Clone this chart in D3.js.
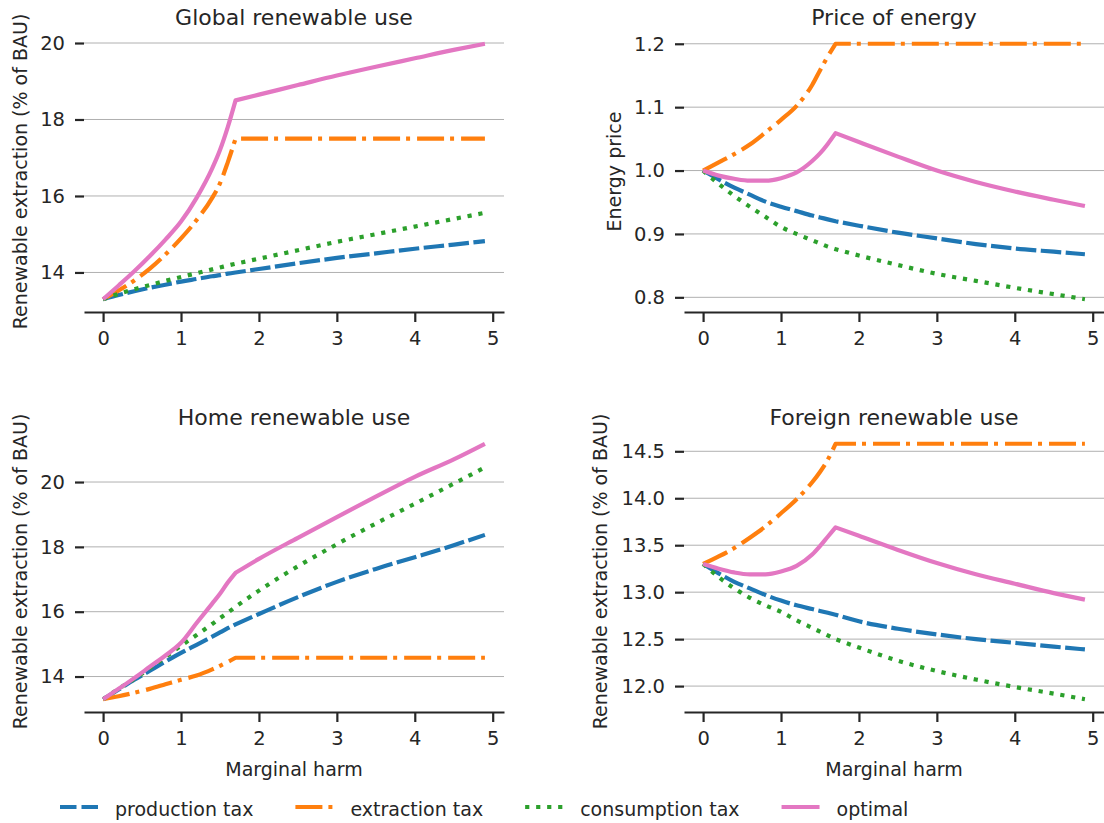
<!DOCTYPE html>
<html><head><meta charset="utf-8">
<script src="https://cdn.jsdelivr.net/npm/d3@7"></script>
<style>
body{margin:0;background:#fff;}
svg{display:block;font-family:"DejaVu Sans",sans-serif;}
</style></head><body>
<svg id="chart" width="1104" height="823"></svg>
<script>
// ---- data ----
const marginalHarm = [0,0.2,0.4,0.6,0.8,1.0,1.2,1.4,1.5,1.6,1.7,2.0,2.5,3.0,3.5,4.0,4.5,4.9];
const kinkHarm = 1.7;
const seriesNames = ["production tax","extraction tax","consumption tax","optimal"];
const xTicks = [0,1,2,3,4,5];

const globalProduction  = [13.3,13.41,13.51,13.6,13.68,13.76,13.83,13.9,13.93,13.97,14.0,14.09,14.24,14.38,14.5,14.62,14.73,14.82];
const globalExtraction  = [13.3,13.53,13.79,14.1,14.47,14.89,15.37,15.95,16.33,16.88,17.5,17.5,17.5,17.5,17.5,17.5,17.5,17.5];
const globalConsumption = [13.3,13.44,13.56,13.67,13.78,13.88,13.98,14.08,14.13,14.18,14.23,14.36,14.58,14.8,15.0,15.2,15.4,15.56];
const globalOptimal     = [13.3,13.66,14.03,14.43,14.86,15.33,15.95,16.72,17.2,17.8,18.5,18.65,18.9,19.15,19.38,19.6,19.82,19.98];
const globalTicks = [14,16,18,20];

const priceProduction  = [1.0,0.986,0.973,0.962,0.951,0.943,0.936,0.929,0.926,0.923,0.92,0.913,0.902,0.893,0.884,0.877,0.872,0.868];
const priceExtraction  = [1.0,1.013,1.026,1.041,1.06,1.08,1.102,1.135,1.158,1.18,1.2,1.2,1.2,1.2,1.2,1.2,1.2,1.2];
const priceConsumption = [1.0,0.979,0.96,0.943,0.927,0.911,0.9,0.89,0.885,0.88,0.876,0.866,0.851,0.837,0.826,0.815,0.805,0.797];
const priceOptimal     = [1.0,0.992,0.987,0.984,0.984,0.988,0.997,1.015,1.027,1.042,1.059,1.045,1.022,1.0,0.982,0.967,0.954,0.944];
const priceTicks = [0.8,0.9,1.0,1.1,1.2];

const homeProduction  = [13.3,13.6,13.9,14.18,14.46,14.73,14.98,15.23,15.36,15.49,15.61,15.93,16.45,16.92,17.32,17.68,18.05,18.37];
const homeExtraction  = [13.3,13.39,13.5,13.62,13.76,13.9,14.03,14.22,14.33,14.45,14.58,14.58,14.58,14.58,14.58,14.58,14.58,14.58];
const homeConsumption = [13.3,13.62,13.93,14.26,14.6,14.95,15.28,15.62,15.8,15.97,16.15,16.65,17.4,18.08,18.72,19.33,19.95,20.45];
const homeOptimal     = [13.3,13.62,13.95,14.3,14.65,15.04,15.65,16.25,16.55,16.9,17.2,17.63,18.28,18.92,19.55,20.16,20.7,21.18];
const homeTicks = [14,16,18,20];

const foreignProduction  = [13.3,13.2,13.11,13.04,12.97,12.91,12.86,12.82,12.8,12.78,12.76,12.69,12.61,12.55,12.5,12.46,12.42,12.39];
const foreignExtraction  = [13.3,13.38,13.47,13.58,13.7,13.84,13.99,14.17,14.28,14.41,14.58,14.58,14.58,14.58,14.58,14.58,14.58,14.58];
const foreignConsumption = [13.3,13.16,13.04,12.94,12.86,12.79,12.7,12.62,12.58,12.54,12.5,12.41,12.27,12.16,12.07,11.99,11.92,11.86];
const foreignOptimal     = [13.3,13.25,13.21,13.19,13.19,13.22,13.28,13.4,13.49,13.59,13.69,13.6,13.45,13.31,13.19,13.09,12.99,12.92];
const foreignTicks = [12.0,12.5,13.0,13.5,14.0,14.5];

// ---- styles ----
const colors = ["#1f77b4","#ff7f0e","#2ca02c","#e377c2"];
const dashes = ["20.5,4.5","27,6,4,7","4.2,6.8",null];
const legendDashes = ["16.5,5","27,6,4,7","4.2,6.8",null];
const textColor = "#262626";
const W = 420, H = 281;

const panels = [
  {title:"Global renewable use", ylabel:"Renewable extraction (% of BAU)", data:[globalProduction,globalExtraction,globalConsumption,globalOptimal], ticks:globalTicks, fmt:d3.format("d"), left:84, top:31, ylx:27, xlabel:false},
  {title:"Price of energy", ylabel:"Energy price", data:[priceProduction,priceExtraction,priceConsumption,priceOptimal], ticks:priceTicks, fmt:d3.format(".1f"), left:684, top:31, ylx:621, xlabel:false},
  {title:"Home renewable use", ylabel:"Renewable extraction (% of BAU)", data:[homeProduction,homeExtraction,homeConsumption,homeOptimal], ticks:homeTicks, fmt:d3.format("d"), left:84, top:431, ylx:27, xlabel:true},
  {title:"Foreign renewable use", ylabel:"Renewable extraction (% of BAU)", data:[foreignProduction,foreignExtraction,foreignConsumption,foreignOptimal], ticks:foreignTicks, fmt:d3.format(".1f"), left:684, top:431, ylx:607, xlabel:true}
];

const svg = d3.select("#chart");

function padded(ext){ const p=(ext[1]-ext[0])*0.05; return [ext[0]-p, ext[1]+p]; }

const kinkIndex = marginalHarm.indexOf(kinkHarm);

panels.forEach(p => {
  const g = svg.append("g");
  const x = d3.scaleLinear().domain(padded(d3.extent(marginalHarm))).range([p.left, p.left+W]);
  const y = d3.scaleLinear().domain(padded(d3.extent(p.data.flat()))).range([p.top+H, p.top]);

  // grid
  g.append("g").selectAll("line").data(p.ticks).join("line")
    .attr("x1", p.left).attr("x2", p.left+W)
    .attr("y1", d=>y(d)).attr("y2", d=>y(d))
    .attr("stroke", "#b0b0b0").attr("stroke-width", 1);

  // lines: smooth on each side of the kink, joined into one continuous path
  const line = d3.line().x(d=>x(d[0])).y(d=>y(d[1])).curve(d3.curveMonotoneX);
  p.data.forEach((s, k) => {
    const pts = s.map((v,i)=>[marginalHarm[i], v]);
    const a = line(pts.slice(0, kinkIndex+1));
    const b = line(pts.slice(kinkIndex)).replace(/^M/, "L");
    g.append("path").attr("d", a + b)
      .attr("fill","none").attr("stroke", colors[k])
      .attr("stroke-width", 4.2)
      .attr("stroke-linecap","butt").attr("stroke-linejoin","round")
      .attr("stroke-dasharray", dashes[k]);
  });

  // x axis
  const ax = g.append("g").attr("transform", `translate(0,${p.top+H})`)
    .call(d3.axisBottom(x).tickValues(xTicks).tickFormat(d3.format("d")).tickSize(10).tickSizeOuter(0).tickPadding(9));
  ax.attr("font-family", null).attr("font-size", null);
  ax.select(".domain").attr("stroke", textColor).attr("stroke-width", 2.2);
  ax.selectAll(".tick line").attr("stroke", textColor).attr("stroke-width", 2.2);
  ax.selectAll(".tick text").attr("fill", textColor).style("font-size","19.5px");

  // y axis
  const ay = g.append("g").attr("transform", `translate(${p.left},0)`)
    .call(d3.axisLeft(y).tickValues(p.ticks).tickFormat(p.fmt).tickSize(9).tickPadding(10));
  ay.attr("font-family", null).attr("font-size", null);
  ay.select(".domain").remove();
  ay.selectAll(".tick line").attr("stroke", textColor).attr("stroke-width", 2.2);
  ay.selectAll(".tick text").attr("fill", textColor).style("font-size","19.5px");

  // title
  g.append("text").attr("x", p.left+W/2).attr("y", p.top-6)
    .attr("text-anchor","middle").attr("fill", textColor).style("font-size","22px").text(p.title);

  // y label
  g.append("text").attr("transform", `translate(${p.ylx},${p.top+H/2}) rotate(-90)`)
    .attr("text-anchor","middle").attr("fill", textColor).style("font-size","19px").text(p.ylabel);

  if (p.xlabel) {
    g.append("text").attr("x", p.left+W/2).attr("y", 776)
      .attr("text-anchor","middle").attr("fill", textColor).style("font-size","19px").text("Marginal harm");
  }
});

// legend
let lx = 60;
const ly = 807;
seriesNames.forEach((name, k) => {
  svg.append("line").attr("x1", lx).attr("x2", lx+38).attr("y1", ly).attr("y2", ly)
    .attr("stroke", colors[k]).attr("stroke-width", 4.2).attr("stroke-dasharray", legendDashes[k]);
  const t = svg.append("text").attr("x", lx+55).attr("y", ly+8.5)
    .attr("fill", textColor).style("font-size","19px").text(name);
  lx = lx + 55 + t.node().getComputedTextLength() + 42;
});
</script>
</body></html>
